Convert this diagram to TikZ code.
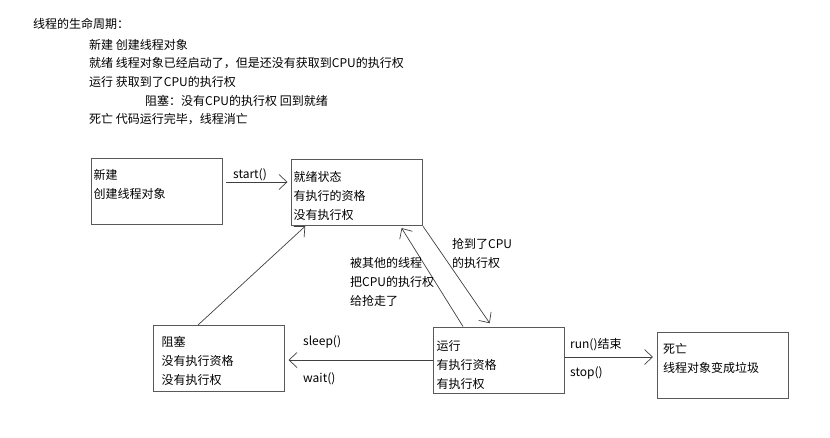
\documentclass[tikz,border=0pt]{standalone}
\usepackage{fontspec}
\setmainfont{Noto Sans CJK SC}
\usetikzlibrary{arrows.meta}
\tikzset{
  statebox/.style={draw=black!65,line width=1pt,minimum width=131pt,minimum height=66pt,inner sep=0pt},
  boxtext/.style={anchor=north west,align=left,inner sep=0pt,font=\fontsize{12}{19}\selectfont},
  lbl/.style={anchor=west,inner sep=0pt,font=\fontsize{12}{19}\selectfont},
  flow/.style={draw=black!75,line width=0.7pt,-{Straight Barb[length=8pt,width=15pt]}},
}

\begin{document}
\begin{tikzpicture}[x=1pt,y=-1pt]
\useasboundingbox (0,0) rectangle (830,437);

% header text
\node[lbl] (title) at (33,24) {线程的生命周期：};
\node[lbl] (hnew) at (89,44.5) {新建 创建线程对象};
\node[lbl] (hready) at (89,63) {就绪 线程对象已经启动了，但是还没有获取到CPU的执行权};
\node[lbl] (hrun) at (89,82) {运行 获取到了CPU的执行权};
\node[lbl] (hblock) at (145,100.5) {阻塞：没有CPU的执行权 回到就绪};
\node[lbl] (hdead) at (89,119) {死亡 代码运行完毕，线程消亡};

% states
\node[statebox] (new) at (156.5,191) {};
\node[statebox] (ready) at (356.5,192) {};
\node[statebox] (blocked) at (218.5,358.5) {};
\node[statebox] (running) at (498.5,360) {};
\node[statebox] (dead) at (723,365) {};

\node[boxtext] at ([xshift=3pt,yshift=-12pt]new.north west) {新建\\创建线程对象};
\node[boxtext] at ([xshift=3pt,yshift=-13pt]ready.north west) {就绪状态\\有执行的资格\\没有执行权};
\node[boxtext] at ([xshift=9pt,yshift=-11pt]blocked.north west) {阻塞\\没有执行资格\\没有执行权};
\node[boxtext] at ([xshift=4pt,yshift=-14pt]running.north west) {运行\\有执行资格\\有执行权};
\node[boxtext] at ([xshift=6pt,yshift=-12pt]dead.north west) {死亡\\线程对象变成垃圾};

% transitions
\draw[flow,shorten <=3.5pt,shorten >=3pt] ([yshift=9pt]new.east) -- ([yshift=9pt]new.east -| ready.west);
\node[lbl] (start) at (233,175) {start()};

\draw[flow,shorten >=1pt] ([xshift=-20.5pt]blocked.north) -- ([xshift=-50.5pt]ready.south);

\draw[flow,shorten >=3pt] ([xshift=-35.5pt]running.north) -- ([xshift=43.5pt]ready.south);
\node[boxtext] (lost) at (350,257) {被其他的线程\\把CPU的执行权\\给抢走了};

\draw[flow,shorten <=1pt,shorten >=4pt] (ready.south east) -- ([xshift=-6.5pt]running.north);
\node[boxtext] (grab) at (452,238) {抢到了CPU\\的执行权};

\draw[flow,shorten >=4pt] (running.west) -- (running.west -| blocked.east);
\node[lbl] (sleep) at (303,342) {sleep()};
\node[lbl] (wait) at (303,379) {wait()};

\draw[flow,shorten >=4pt] ([yshift=3pt]running.east) -- ([yshift=3pt]running.east -| dead.west);
\node[lbl] (runend) at (570,345) {run()结束};
\node[lbl] (stop) at (570,373) {stop()};
\end{tikzpicture}
\end{document}
